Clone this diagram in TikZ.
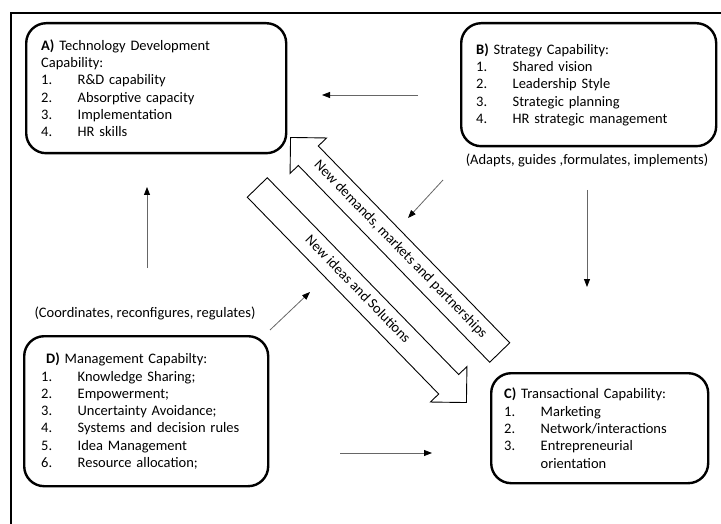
\documentclass[tikz,border=0pt]{standalone}
\usepackage{fontspec}
\setmainfont{Carlito}
\usetikzlibrary{shapes.arrows,arrows.meta}
\newcommand\itm[1]{\makebox[36.5pt][l]{#1}}
\begin{document}
\begin{tikzpicture}[x=1pt,y=-1pt,
  txt/.style={font=\fontsize{14.5}{17.3}\selectfont},
  capbox/.style={txt,draw,line width=2.4pt,rounded corners=20pt,inner xsep=15pt,inner ysep=0pt,align=left,anchor=north west},
  blockarrow/.style={txt,draw,line width=0.9pt,single arrow,single arrow tip angle=90,single arrow head extend=11.5pt,minimum height=300pt,text height=10pt,text depth=3.5pt,inner ysep=6.75pt,inner xsep=0pt,rotate=-45.8},
  thinarrow/.style={draw=black!60,line width=0.8pt,-{Triangle[length=8pt,width=6pt,color=black]}},
  lbl/.style={txt,inner sep=0pt}
]
\useasboundingbox (0,0) rectangle (721,524);
% outer frame (top and left edges visible)
\draw[line width=2.5pt] (11,524) -- (11,13) -- (721,13);

% boxes
\node[capbox,text width=230pt,minimum height=130pt] (A) at (25,22) {%
\textbf{A)} Technology Development\\
Capability:\\
\itm{1.}R\&D capability\\
\itm{2.}Absorptive capacity\\
\itm{3.}Implementation\\
\itm{4.}HR skills};

\node[capbox,text width=225pt,minimum height=123pt] (B) at (460,22) {%
\textbf{B)} Strategy Capability:\\
\itm{1.}Shared vision\\
\itm{2.}Leadership Style\\
\itm{3.}Strategic planning\\
\itm{4.}HR strategic management};

\node[capbox,inner xsep=17pt,text width=210pt,minimum height=150pt] (D) at (23,335) {%
\hspace*{5pt}\textbf{D)} Management Capabilty:\\
\itm{1.}Knowledge Sharing;\\
\itm{2.}Empowerment;\\
\itm{3.}Uncertainty Avoidance;\\
\itm{4.}Systems and decision rules\\
\itm{5.}Idea Management\\
\itm{6.}Resource allocation;};

\node[capbox,inner xsep=13pt,text width=191pt,minimum height=110pt] (C) at (490,372) {%
\textbf{C)} Transactional Capability:\\
\itm{1.}Marketing\\
\itm{2.}Network/interactions\\
\itm{3.}Entrepreneurial\\
\itm{}orientation};

% labels
\node[lbl] (adapts) at (587,160) {(Adapts, guides ,formulates, implements)};
\node[lbl] (coord) at (145,313) {(Coordinates, reconfigures, regulates)};

% block arrows
\node[blockarrow,shape border rotate=180] (up) at (400,250) {New demands, markets and partnerships};
\node[blockarrow] (down) at (357,290) {New ideas and Solutions};

% thin arrows
\coordinate (ba1) at (418,95);  \coordinate (ba2) at (322,95);
\coordinate (ad1) at (443,180); \coordinate (ad2) at (408,218);
\coordinate (bc1) at (587,190); \coordinate (bc2) at (587,287);
\coordinate (da1) at (147,268); \coordinate (da2) at (147,187);
\coordinate (co1) at (270,330); \coordinate (co2) at (310,292);
\coordinate (dc1) at (340,453); \coordinate (dc2) at (432,453);
\draw[thinarrow] (ba1) -- (ba2);
\draw[thinarrow] (ad1) -- (ad2);
\draw[thinarrow] (bc1) -- (bc2);
\draw[thinarrow] (da1) -- (da2);
\draw[thinarrow] (co1) -- (co2);
\draw[thinarrow] (dc1) -- (dc2);
\end{tikzpicture}
\end{document}
